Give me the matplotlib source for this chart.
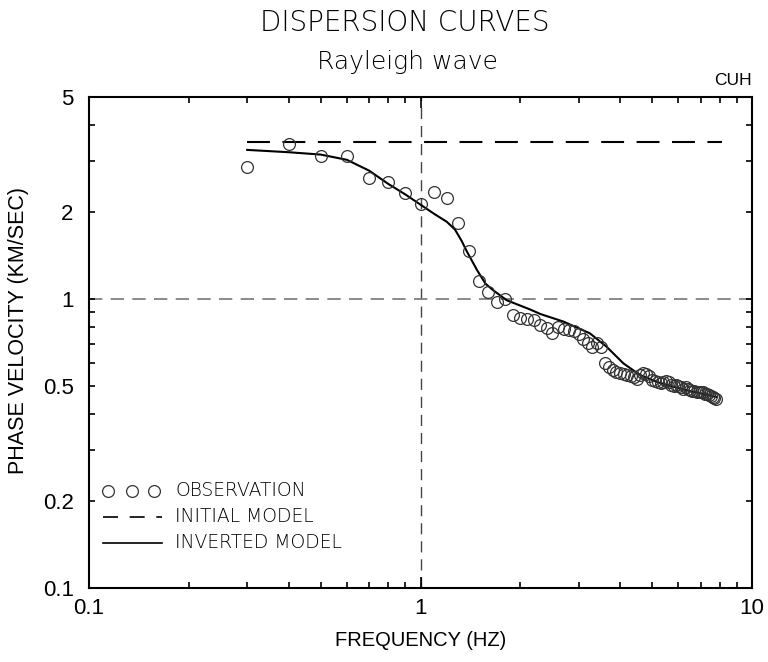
import numpy as np
import matplotlib
matplotlib.use('Agg')
import matplotlib.pyplot as plt
from matplotlib.ticker import FixedLocator, FixedFormatter, NullFormatter

plt.rcParams['font.family'] = ['Liberation Sans', 'DejaVu Sans']

# observed phase velocities (0.1 Hz steps)
obs_freq = np.round(np.arange(0.3, 7.85, 0.1), 2)
obs_vel = [2.86, 3.44, 3.12, 3.12, 2.62, 2.54, 2.33, 2.13, 2.35, 2.23,
           1.83, 1.46, 1.157,
           1.06, 0.98, 1.00, 0.88, 0.86, 0.853, 0.849, 0.813, 0.793, 0.763,
           0.80, 0.788, 0.781, 0.775, 0.757, 0.727, 0.704, 0.68, 0.707, 0.682,
           0.60, 0.582, 0.568, 0.559, 0.554,
           0.55, 0.546, 0.541, 0.537, 0.53, 0.545, 0.555, 0.55, 0.54, 0.525,
           0.52, 0.515, 0.51, 0.515, 0.52, 0.515, 0.505, 0.50, 0.505, 0.50,
           0.495, 0.49, 0.495, 0.49, 0.485, 0.48, 0.48, 0.478, 0.475, 0.478,
           0.475, 0.47, 0.468, 0.465, 0.46, 0.458, 0.455, 0.45]

# initial model
init_freq = [0.3, 8.1]
init_vel = [3.49, 3.49]

# inverted model
inv_freq = [0.3, 0.4, 0.5, 0.6, 0.7, 0.8, 0.9, 1.0, 1.1, 1.2, 1.27, 1.33,
            1.38, 1.48, 1.57, 1.66, 1.82, 2.14, 2.3, 2.7, 3.24, 3.64, 4.09,
            4.59, 5.2, 5.8, 6.5, 7.2, 7.8]
inv_vel = [3.28, 3.22, 3.16, 3.03, 2.78, 2.50, 2.30, 2.12, 1.97, 1.85, 1.74,
           1.59, 1.46, 1.26, 1.13, 1.07, 0.99, 0.92, 0.887, 0.835, 0.761,
           0.684, 0.599, 0.546, 0.515, 0.497, 0.48, 0.468, 0.458]

fig = plt.figure(figsize=(7.68, 6.62), dpi=100)
ax = fig.add_axes([0.1159, 0.1118, 0.8633, 0.7417])

ax.set_xscale('log')
ax.set_yscale('log')
ax.set_xlim(0.1, 10)
ax.set_ylim(0.1, 5)

# reference lines at 1
ax.axvline(1, color='#444444', lw=1, dashes=(8, 5), zorder=1)
ax.axhline(1, color='#777777', lw=1.2, dashes=(8, 5), zorder=1)

ax.plot(init_freq, init_vel, color='black', lw=1.5, dashes=(11, 6), zorder=2)
ax.plot(inv_freq, inv_vel, color='black', lw=1.5, zorder=3)
ax.plot(obs_freq, obs_vel, 'o', ms=8.5, mfc='none', mec='#333333', mew=0.9, zorder=4)

# ticks
ax.xaxis.set_major_locator(FixedLocator([0.1, 1, 10]))
ax.xaxis.set_major_formatter(FixedFormatter(['0.1', '1', '10']))
ax.xaxis.set_minor_locator(FixedLocator([0.2, 0.3, 0.4, 0.5, 0.6, 0.7, 0.8, 0.9,
                                         2, 3, 4, 5, 6, 7, 8, 9]))
ax.xaxis.set_minor_formatter(NullFormatter())
ax.yaxis.set_major_locator(FixedLocator([0.1, 0.2, 0.5, 1, 2, 5]))
ax.yaxis.set_major_formatter(FixedFormatter(['0.1', '0.2', '0.5', '1', '2', '5']))
ax.yaxis.set_minor_locator(FixedLocator([0.3, 0.4, 0.6, 0.7, 0.8, 0.9, 3, 4]))
ax.yaxis.set_minor_formatter(NullFormatter())

ax.tick_params(which='both', direction='in', top=True, right=True, width=1.2,
               labelsize=16)
ax.tick_params(axis='x', which='major', length=8, pad=7)
ax.tick_params(axis='x', which='minor', length=4.5)
ax.tick_params(axis='y', which='major', length=4.5, pad=11)
ax.tick_params(axis='y', which='minor', length=4.5)
for s in ax.spines.values():
    s.set_linewidth(1.5)

ax.set_xlabel('FREQUENCY (HZ)', fontsize=14.5, labelpad=9)
ax.set_ylabel('PHASE VELOCITY (KM/SEC)', fontsize=15.5)
ax.yaxis.set_label_coords(-0.091, 0.525)

# titles
fig.text(0.527, 0.965, 'DISPERSION CURVES', ha='center', va='center',
         fontsize=20, family=['DejaVu Sans'], fontweight='light')
fig.text(0.531, 0.906, 'Rayleigh wave', ha='center', va='center',
         fontsize=18, family=['DejaVu Sans'], fontweight='light')
fig.text(0.979, 0.879, 'CUH', ha='right', va='center', fontsize=12.5)

# legend drawn inside axes
tr = ax.transAxes
ax.plot([0.029, 0.065, 0.098], [0.198, 0.198, 0.198], 'o', ms=8.5, mfc='none',
        mec='#333333', mew=0.9, transform=tr, clip_on=False)
ax.plot([0.021, 0.110], [0.1446, 0.1446], color='black', lw=1.2, dashes=(9, 7),
        transform=tr)
ax.plot([0.021, 0.110], [0.0917, 0.0917], color='black', lw=1.2, transform=tr)
for yy, txt in zip([0.198, 0.1446, 0.0917],
                   ['OBSERVATION', 'INITIAL MODEL', 'INVERTED MODEL']):
    ax.text(0.1297, yy, txt, transform=tr, va='center', ha='left', fontsize=13.5,
            family=['DejaVu Sans'], fontweight='light', color='black')

fig.savefig('out.png', dpi=100)
